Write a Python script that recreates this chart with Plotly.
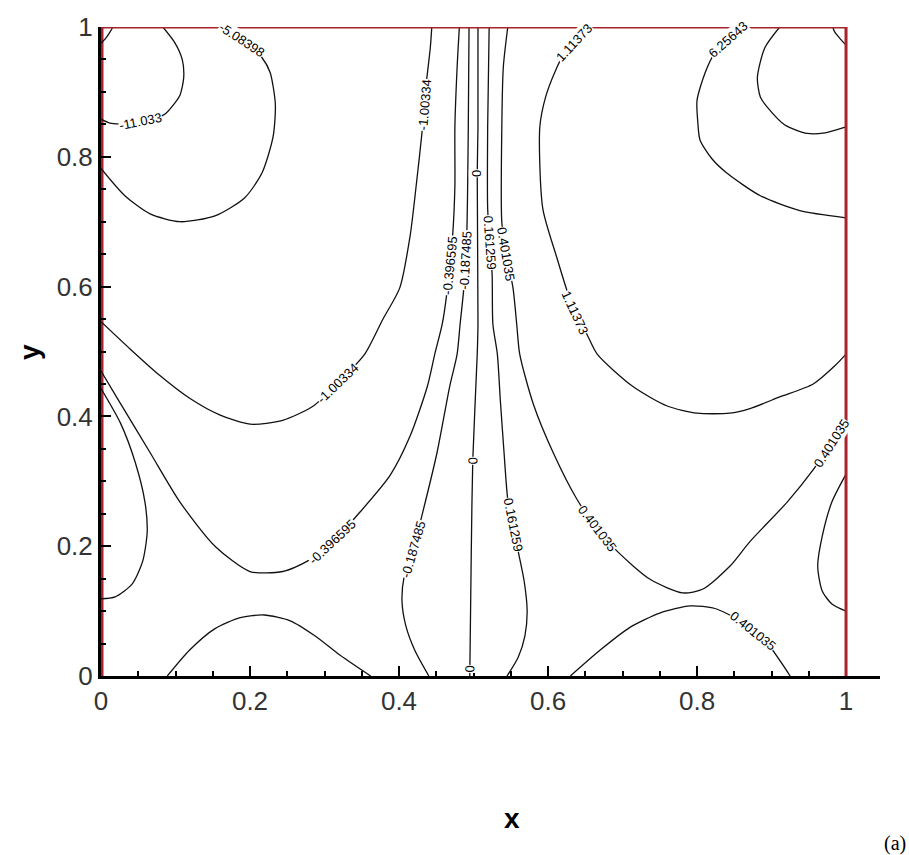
import math
import plotly.graph_objects as go

# ---- contour polylines (x, y in cavity coordinates) ----
corner_l_x = [0.0, 0.006, 0.012, 0.016]
corner_l_y = [0.975, 0.982, 0.992, 1.0]

m11033_x = [0.083, 0.099, 0.109, 0.111, 0.106, 0.095, 0.086, 0.066, 0.039, 0.012, 0.0]
m11033_y = [1.0, 0.976, 0.950, 0.922, 0.895, 0.877, 0.866, 0.857, 0.851, 0.852, 0.858]

m508398_x = [0.160, 0.180, 0.200, 0.216, 0.227, 0.234, 0.231, 0.216, 0.193, 0.153, 0.106, 0.066, 0.032, 0.0]
m508398_y = [1.0, 0.986, 0.971, 0.953, 0.930, 0.881, 0.831, 0.775, 0.737, 0.709, 0.700, 0.712, 0.740, 0.782]

m100334_x = [0.0, 0.039, 0.079, 0.119, 0.160, 0.200, 0.244, 0.285, 0.321, 0.354, 0.378, 0.401,
             0.415, 0.423, 0.431, 0.436, 0.442, 0.444]
m100334_y = [0.546, 0.504, 0.463, 0.428, 0.402, 0.388, 0.394, 0.416, 0.455, 0.496, 0.549, 0.598,
             0.679, 0.755, 0.839, 0.907, 0.968, 1.0]

m0396595_x = [0.0, 0.026, 0.066, 0.106, 0.153, 0.200, 0.244, 0.277, 0.311, 0.348, 0.388, 0.415,
              0.438, 0.448, 0.458, 0.464, 0.468, 0.472, 0.475, 0.475, 0.478, 0.481]
m0396595_y = [0.470, 0.420, 0.344, 0.268, 0.200, 0.161, 0.161, 0.177, 0.207, 0.253, 0.309, 0.370,
              0.446, 0.496, 0.542, 0.588, 0.633, 0.679, 0.755, 0.846, 0.938, 1.0]

m0396595_wall_x = [0.0, 0.026, 0.046, 0.059, 0.062, 0.056, 0.042, 0.019, 0.0]
m0396595_wall_y = [0.443, 0.390, 0.329, 0.268, 0.222, 0.177, 0.142, 0.122, 0.119]

m0396595_floor_x = [0.089, 0.119, 0.153, 0.187, 0.219, 0.254, 0.287, 0.321, 0.362]
m0396595_floor_y = [0.0, 0.040, 0.073, 0.090, 0.094, 0.085, 0.062, 0.032, 0.0]

m0187485_x = [0.494, 0.493, 0.491, 0.487, 0.482, 0.478, 0.468, 0.451, 0.432, 0.419, 0.407, 0.404,
              0.409, 0.421, 0.440]
m0187485_y = [1.0, 0.846, 0.683, 0.598, 0.542, 0.496, 0.446, 0.344, 0.253, 0.195, 0.154, 0.116,
              0.078, 0.040, 0.0]

zero_x = [0.506, 0.506, 0.505, 0.506, 0.505, 0.499, 0.497, 0.495]
zero_y = [1.0, 0.846, 0.775, 0.542, 0.496, 0.332, 0.192, 0.0]

p0161259_x = [0.521, 0.519, 0.519, 0.522, 0.525, 0.526, 0.532, 0.536, 0.541, 0.546, 0.553, 0.560,
              0.568, 0.572, 0.569, 0.560, 0.545]
p0161259_y = [1.0, 0.846, 0.720, 0.668, 0.618, 0.542, 0.496, 0.425, 0.344, 0.272, 0.233, 0.192,
              0.146, 0.100, 0.062, 0.029, 0.0]

p0401035_x = [0.546, 0.540, 0.538, 0.538, 0.544, 0.553, 0.558, 0.562, 0.580, 0.607, 0.639, 0.666,
              0.693, 0.737, 0.781, 0.808, 0.844, 0.871, 0.921, 0.956, 0.980, 1.0]
p0401035_y = [1.0, 0.938, 0.846, 0.699, 0.650, 0.598, 0.542, 0.496, 0.420, 0.344, 0.272, 0.227,
              0.192, 0.149, 0.128, 0.134, 0.169, 0.207, 0.268, 0.318, 0.359, 0.397]

p0401035_wall_x = [1.0, 0.981, 0.968, 0.962, 0.968, 0.981, 1.0]
p0401035_wall_y = [0.311, 0.268, 0.215, 0.169, 0.131, 0.111, 0.100]

p0401035_floor_x = [0.630, 0.670, 0.710, 0.750, 0.791, 0.824, 0.858, 0.891, 0.925]
p0401035_floor_y = [0.0, 0.040, 0.075, 0.097, 0.108, 0.104, 0.085, 0.055, 0.0]

p111373_x = [0.659, 0.641, 0.622, 0.609, 0.597, 0.589, 0.593, 0.612, 0.626, 0.636, 0.652, 0.666,
             0.714, 0.760, 0.800, 0.844, 0.871, 0.911, 0.956, 0.985, 1.0]
p111373_y = [1.0, 0.983, 0.960, 0.930, 0.893, 0.846, 0.720, 0.644, 0.592, 0.560, 0.527, 0.496,
             0.446, 0.416, 0.405, 0.405, 0.412, 0.430, 0.450, 0.478, 0.496]

p625643_x = [0.864, 0.842, 0.824, 0.811, 0.800, 0.801, 0.804, 0.820, 0.840, 0.885, 0.938, 1.0]
p625643_y = [1.0, 0.980, 0.960, 0.930, 0.887, 0.854, 0.826, 0.797, 0.775, 0.740, 0.717, 0.706]

p_inner_x = [0.911, 0.891, 0.881, 0.885, 0.894, 0.918, 0.948, 0.972, 1.0]
p_inner_y = [1.0, 0.968, 0.922, 0.892, 0.877, 0.849, 0.836, 0.837, 0.846]

corner_r_x = [1.0, 0.992, 0.985, 0.982]
corner_r_y = [0.972, 0.982, 0.992, 1.0]

curves = [
    (corner_l_x, corner_l_y), (m11033_x, m11033_y), (m508398_x, m508398_y),
    (m100334_x, m100334_y), (m0396595_x, m0396595_y), (m0396595_wall_x, m0396595_wall_y),
    (m0396595_floor_x, m0396595_floor_y), (m0187485_x, m0187485_y), (zero_x, zero_y),
    (p0161259_x, p0161259_y), (p0401035_x, p0401035_y), (p0401035_wall_x, p0401035_wall_y),
    (p0401035_floor_x, p0401035_floor_y), (p111373_x, p111373_y), (p625643_x, p625643_y),
    (p_inner_x, p_inner_y), (corner_r_x, corner_r_y),
]

# contour labels: (curve, segment index, fraction along segment, text)
labels = [
    (m11033_x, m11033_y, 7, 0.5, "-11.033"),
    (m508398_x, m508398_y, 1, 0.4, "-5.08398"),
    (m100334_x, m100334_y, 7, 0.9, "-1.00334"),
    (m100334_x, m100334_y, 14, 0.6, "-1.00334"),
    (m0396595_x, m0396595_y, 8, 0.0, "-0.396595"),
    (m0396595_x, m0396595_y, 16, 0.0, "-0.396595"),
    (m0187485_x, m0187485_y, 2, 0.5, "-0.187485"),
    (m0187485_x, m0187485_y, 9, 0.0, "-0.187485"),
    (zero_x, zero_y, 2, 0.0, "0"),
    (zero_x, zero_y, 5, 0.0, "0"),
    (zero_x, zero_y, 6, 0.94, "0"),
    (p0161259_x, p0161259_y, 3, 0.0, "0.161259"),
    (p0161259_x, p0161259_y, 10, 0.0, "0.161259"),
    (p0401035_x, p0401035_y, 4, 0.0, "0.401035"),
    (p0401035_x, p0401035_y, 11, 0.0, "0.401035"),
    (p0401035_x, p0401035_y, 20, 0.0, "0.401035"),
    (p0401035_floor_x, p0401035_floor_y, 6, 0.5, "0.401035"),
    (p111373_x, p111373_y, 9, 0.0, "1.11373"),
    (p111373_x, p111373_y, 1, 0.3, "1.11373"),
    (p625643_x, p625643_y, 1, 0.0, "6.25643"),
]

x_ticks = [0, 0.2, 0.4, 0.6, 0.8, 1]
y_ticks = [0, 0.2, 0.4, 0.6, 0.8, 1]

W, H = 909, 855
M_L, M_R, M_T, M_B = 101, 29, 19, 179
X_RANGE = [0, 1.0456]
Y_RANGE = [0, 1.0]
PLOT_W = W - M_L - M_R
PLOT_H = H - M_T - M_B
px_per_x = PLOT_W / (X_RANGE[1] - X_RANGE[0])
px_per_y = PLOT_H / (Y_RANGE[1] - Y_RANGE[0])

fig = go.Figure()
for cx, cy in curves:
    fig.add_trace(go.Scatter(x=cx, y=cy, mode="lines",
                             line=dict(color="#111111", width=1.3, shape="spline", smoothing=0.7),
                             hoverinfo="skip", showlegend=False))

annotations = []
for cx, cy, i, t, text in labels:
    j = min(i + 1, len(cx) - 1)
    if j == i:
        i = i - 1
    ax = cx[i] + t * (cx[j] - cx[i])
    ay = cy[i] + t * (cy[j] - cy[i])
    # tangent direction around the anchor, in screen pixels
    a = max(i - 1, 0) if t == 0 else i
    b = j
    dxs = (cx[b] - cx[a]) * px_per_x
    dys = -(cy[b] - cy[a]) * px_per_y
    ang = math.degrees(math.atan2(dys, dxs))
    if ang > 90:
        ang -= 180
    elif ang <= -90:
        ang += 180
    annotations.append(dict(x=ax, y=ay, xref="x", yref="y", text=text, showarrow=False,
                            textangle=ang, xanchor="center", yanchor="middle",
                            bgcolor="white", borderpad=0,
                            font=dict(family="Liberation Sans, Arial, sans-serif",
                                      size=13, color="black")))


def paper_x(px):
    return (px - M_L) / PLOT_W


def paper_y(py):
    return (H - M_B - py) / PLOT_H


# axis titles and panel tag
annotations.append(dict(x=paper_x(512), y=paper_y(820), xref="paper", yref="paper",
                        xanchor="center", yanchor="middle", text="<b>x</b>", showarrow=False,
                        font=dict(family="Liberation Sans, Arial, sans-serif", size=28,
                                  color="black")))
annotations.append(dict(x=paper_x(30), y=paper_y(348), xref="paper", yref="paper",
                        xanchor="center", yanchor="middle", text="<b>y</b>", showarrow=False,
                        textangle=-90,
                        font=dict(family="Liberation Sans, Arial, sans-serif", size=28,
                                  color="black")))
annotations.append(dict(x=paper_x(895), y=paper_y(846), xref="paper", yref="paper",
                        xanchor="center", yanchor="middle", text="(a)", showarrow=False,
                        font=dict(family="Liberation Serif, Times New Roman, serif", size=20,
                                  color="black")))

red = "#a8232b"
shapes = [
    dict(type="line", x0=0, x1=0, y0=0, y1=1, xref="x", yref="y",
         line=dict(color=red, width=5), layer="below"),
    dict(type="line", x0=1, x1=1, y0=0, y1=1, xref="x", yref="y",
         line=dict(color=red, width=3), layer="above"),
    dict(type="line", x0=0, x1=1, y0=1, y1=1, xref="x", yref="y",
         line=dict(color=red, width=3), layer="above"),
]

tick_font = dict(family="Liberation Sans, Arial, sans-serif", size=26, color="#333333")

axis_common = dict(ticks="inside", ticklen=10, tickwidth=2, tickcolor="black",
                   showline=True, linecolor="black", linewidth=3, showgrid=False,
                   zeroline=False, tickfont=tick_font,
                   minor=dict(dtick=0.05, tick0=0, ticks="inside", ticklen=5, tickwidth=1.5,
                              tickcolor="black", showgrid=False))

fig.update_layout(
    width=W, height=H,
    margin=dict(l=M_L, r=M_R, t=M_T, b=M_B),
    paper_bgcolor="white", plot_bgcolor="white",
    annotations=annotations, shapes=shapes,
    xaxis=dict(range=X_RANGE, tickvals=x_ticks, ticktext=[f"{v:g}" for v in x_ticks],
               **axis_common),
    yaxis=dict(range=Y_RANGE, tickvals=y_ticks, ticktext=[f"{v:g}" for v in y_ticks],
               **axis_common),
)

fig.write_html("out.html")
